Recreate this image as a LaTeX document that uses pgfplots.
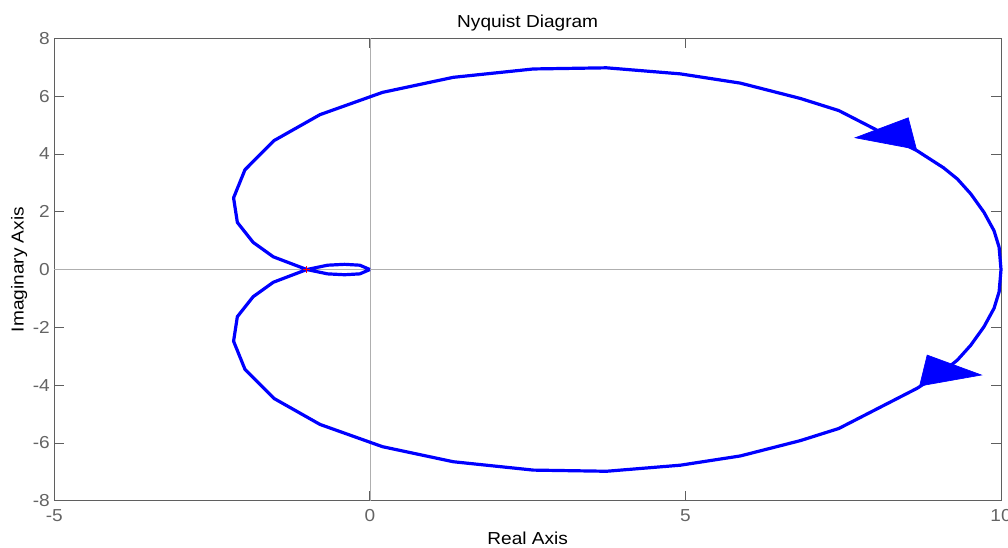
\documentclass[border=0pt]{standalone}
\usepackage{pgfplots}
\pgfplotsset{compat=1.18}
\usepackage{fontspec}
\setmainfont{Liberation Sans}[FakeStretch=1.1]
\definecolor{axgray}{RGB}{95,95,95}
\definecolor{tickgray}{RGB}{100,100,100}
\definecolor{zerogray}{RGB}{175,175,175}
\begin{document}
\begin{tikzpicture}
\begin{axis}[
  name=ax,
  scale only axis, width=710pt, height=346.8pt,
  xmin=-5, xmax=10, ymin=-8, ymax=8,
  clip=false,
  xtick={-5,0,5,10}, xticklabels={-5,0,5,10},
  ytick={-8,-6,-4,-2,0,2,4,6,8}, yticklabels={-8,-6,-4,-2,0,2,4,6,8},
  tick align=inside, major tick length=7.5pt,
  axis line style={axgray, line width=0.7pt},
  every tick/.style={axgray, line width=0.6pt},
  tick label style={font=\fontsize{13}{15}\selectfont, text=tickgray},
  xticklabel style={anchor=base, yshift=-15.2pt},
  yticklabel style={anchor=east, inner xsep=0pt, xshift=-3.2pt},
  title={Nyquist Diagram},
  every axis title/.style={at={(0.5,1)}, anchor=base, yshift=8.25pt, font=\fontsize{13}{15}\selectfont},
  xlabel={Real Axis}, ylabel={Imaginary Axis},
  xlabel style={at={(axis description cs:0.5,0)}, anchor=base, yshift=-33pt, font=\fontsize{13}{15}\selectfont},
  ylabel style={at={(axis description cs:0,0.5)}, anchor=base, yshift=23.1pt, font=\fontsize{13}{15}\selectfont},
]
% zero lines
\addplot[zerogray, line width=0.5pt, forget plot] coordinates {(-5,0) (10,0)};
\addplot[zerogray, line width=0.5pt, forget plot] coordinates {(0,-8) (0,8)};
% Nyquist curve
\addplot[blue, line width=2.4pt, line join=round] coordinates {
(0,0) (-0.16,0.15) (-0.40,0.18) (-0.67,0.15) (-1.0,0)
(-1.53,-0.44) (-1.85,-0.94) (-2.10,-1.63) (-2.16,-2.48) (-1.98,-3.45)
(-1.52,-4.46) (-0.79,-5.36) (0.20,-6.13) (1.32,-6.65) (2.59,-6.94)
(3.75,-6.98) (4.92,-6.77) (5.87,-6.45) (6.82,-5.92) (7.43,-5.50)
(8.67,-4.11) (9.09,-3.52) (9.31,-3.13) (9.52,-2.62) (9.73,-1.98)
(9.89,-1.34) (9.97,-0.77) (10,0)
(9.97,0.77) (9.89,1.34) (9.73,1.98) (9.52,2.62) (9.31,3.13)
(9.09,3.52) (8.67,4.11) (7.43,5.50) (6.82,5.92) (5.87,6.45)
(4.92,6.77) (3.75,6.98) (2.59,6.94) (1.32,6.65) (0.20,6.13)
(-0.79,5.36) (-1.52,4.46) (-1.98,3.45) (-2.16,2.48) (-2.10,1.63)
(-1.85,0.94) (-1.53,0.44) (-1.0,0)
(-0.67,-0.15) (-0.40,-0.18) (-0.16,-0.15) (0,0)
};
% arrows
\addplot[blue, fill=blue, line width=0.5pt] coordinates {(7.69,4.56) (8.53,5.25) (8.66,4.16)} --cycle;
\addplot[blue, fill=blue, line width=0.5pt] coordinates {(8.83,-2.96) (9.69,-3.65) (8.71,-4.03)} --cycle;
% critical point
\addplot[red, only marks, mark=+, mark size=2.6pt, mark options={line width=0.6pt}] coordinates {(-1,0)};
\end{axis}
\pgfresetboundingbox
\path[use as bounding box] ([xshift=-40.75pt,yshift=-34.7pt]ax.south west) rectangle ([xshift=5.25pt,yshift=28.75pt]ax.north east);
\end{tikzpicture}
\end{document}
